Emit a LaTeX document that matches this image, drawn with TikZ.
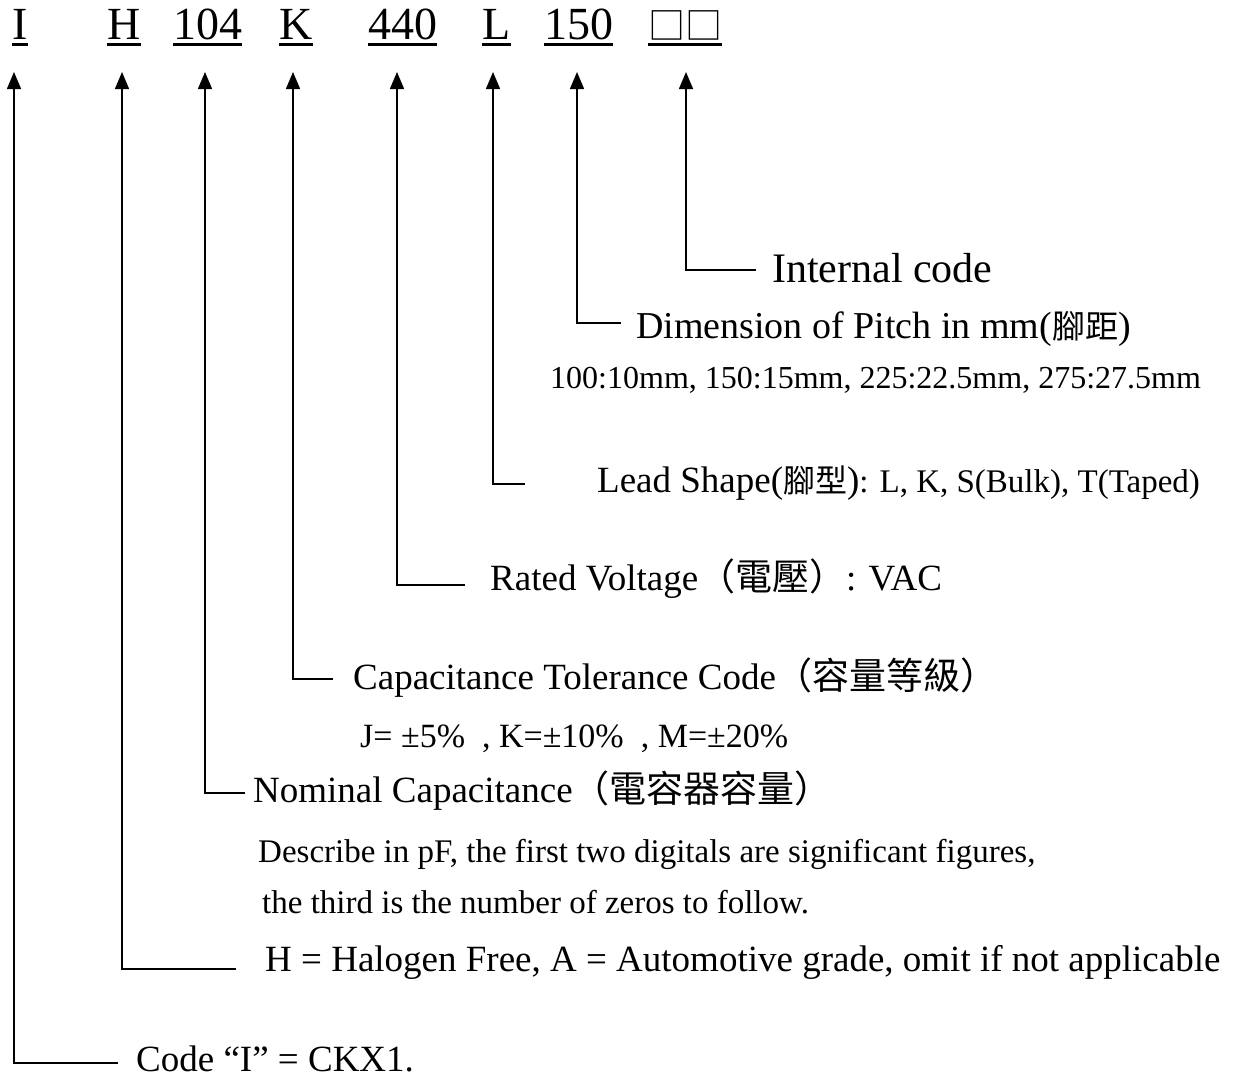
\documentclass[tikz,border=0pt]{standalone}
\usepackage{fontspec}
\setmainfont{Liberation Serif}
\newfontfamily\cjk{Noto Sans CJK TC}
\usetikzlibrary{arrows.meta}
\begin{document}
\begin{tikzpicture}[x=1pt,y=-1pt,
  hdr/.style={anchor=base west, inner sep=0pt, font=\fontsize{46}{50}\selectfont},
  lbl/.style={anchor=base west, inner sep=0pt, font=\fontsize{37}{40}\selectfont},
  big/.style={anchor=base west, inner sep=0pt, font=\fontsize{42}{46}\selectfont},
  sml/.style={anchor=base west, inner sep=0pt, font=\fontsize{33}{36}\selectfont},
  conn/.style={line width=1.5pt, -{Triangle[width=14pt,length=17pt]}},
  uline/.style={line width=3pt}]
\useasboundingbox[fill=white] (0,0) rectangle (1246,1082);

% header code
\node[hdr] (hI) at (12,39) {I};
\node[hdr] (hH) at (107,39) {H};
\node[hdr] (h104) at (173,39) {104};
\node[hdr] (hK) at (279,39) {K};
\node[hdr] (h440) at (368,39) {440};
\node[hdr] (hL) at (482,39) {L};
\node[hdr] (h150) at (544,39) {150};
\node[hdr] (hSq) at (648,39) {{\cjk\fontsize{37}{40}\selectfont □□}};
\foreach \n in {hI,hH,h104,hK,h440,hL,h150,hSq}
  \draw[uline] ([yshift=-5pt]\n.base west) -- ([yshift=-5pt]\n.base east);

% labels
\node[big] (tSq) at (772,282) {Internal code};
\node[lbl, font=\fontsize{38}{42}\selectfont] (t150) at (636,338) {Dimension of Pitch in mm({\cjk\fontsize{33}{33}\selectfont 腳距})};
\node[sml, font=\fontsize{32}{36}\selectfont] (t150b) at (550,388) {100:10mm, 150:15mm, 225:22.5mm, 275:27.5mm};
\node[lbl] (tL) at (597,492) {Lead Shape({\cjk\fontsize{32}{32}\selectfont 腳型}){\fontsize{33}{36}\selectfont: L, K, S(Bulk), T(Taped)}};
\node[lbl] (t440) at (490,590) {Rated Voltage{\cjk （電壓）}: VAC};
\node[lbl] (tK) at (353,689) {Capacitance Tolerance Code{\cjk （容量等級）}};
\node[sml, font=\fontsize{34}{38}\selectfont] (tKb) at (360,747) {J= ±5\%\ \ , K=±10\%\ \ , M=±20\%};
\node[lbl] (t104) at (253,802) {Nominal Capacitance{\cjk （電容器容量）}};
\node[sml] (t104b) at (258,862) {Describe in pF, the first two digitals are significant figures,};
\node[sml] (t104c) at (262,913) {the third is the number of zeros to follow.};
\node[lbl] (tH) at (265,971) {H = Halogen Free, A = Automotive grade, omit if not applicable};
\node[lbl] (tI) at (136,1071) {Code “I” = CKX1.};

% connector coordinates
\coordinate (aSq) at (686,72);  \coordinate (kSq) at (686,270);  \coordinate (eSq) at (756,270);
\coordinate (a150) at (577,72); \coordinate (k150) at (577,323); \coordinate (e150) at (621,323);
\coordinate (aL) at (493,72);   \coordinate (kL) at (493,484);   \coordinate (eL) at (525,484);
\coordinate (a440) at (397,72); \coordinate (k440) at (397,585); \coordinate (e440) at (465,585);
\coordinate (aK) at (293,72);   \coordinate (kK) at (293,679);   \coordinate (eK) at (333,679);
\coordinate (a104) at (205,72); \coordinate (k104) at (205,793); \coordinate (e104) at (245,793);
\coordinate (aH) at (122,72);   \coordinate (kH) at (122,969);   \coordinate (eH) at (236,969);
\coordinate (aI) at (14,72);    \coordinate (kI) at (14,1063);   \coordinate (eI) at (118,1063);

\foreach \n in {Sq,150,L,440,K,104,H,I}
  \draw[conn] (e\n) -- (k\n) -- (a\n);
\end{tikzpicture}
\end{document}
